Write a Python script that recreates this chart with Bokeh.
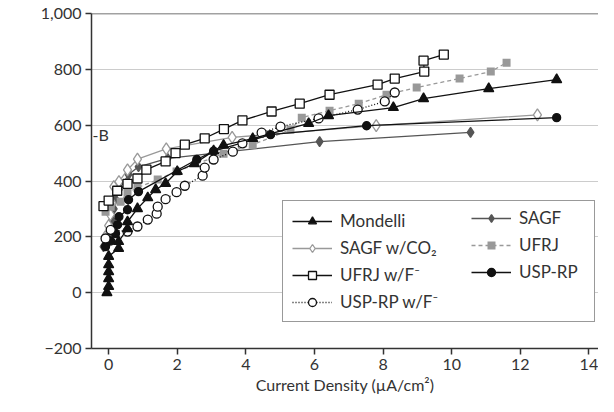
import math
from bokeh.plotting import figure
from bokeh.models import (Span, Label, Legend, LegendItem, FixedTicker, Range1d)
from bokeh.embed import file_html
from bokeh.resources import INLINE

FONT = "Lato"

# ---------------- data ----------------
mondelli_x = [-0.05, 0, 0, 0, 0, 0, 0.29, 0.29, 0.55, 0.55, 0.84, 1.14, 1.37, 1.66, 2.0, 2.5, 3.06, 3.35, 4.2, 5.83, 6.41, 8.3, 9.18, 11.08, 13.06]
mondelli_y = [0, 22, 50, 75, 100, 130, 158, 183, 229, 254, 301, 340, 369, 391, 434, 462, 508, 528, 552, 606, 634, 663, 695, 731, 763]

sagf_co2_x = [-0.1, 0.0, 0.05, 0.1, 0.15, 0.3, 0.55, 0.84, 1.68, 3.6, 7.8, 12.5]
sagf_co2_y = [200, 240, 280, 320, 380, 398, 440, 478, 515, 556, 598, 637]

ufrj_f_x = [-0.15, 0.0, 0.25, 0.55, 0.84, 1.1, 1.66, 1.95, 2.22, 2.8, 3.36, 3.9, 4.75, 5.57, 6.44, 7.84, 8.34, 9.2, 9.18, 9.77]
ufrj_f_y = [310, 330, 365, 390, 409, 441, 470, 500, 530, 553, 586, 617, 649, 677, 709, 745, 767, 792, 831, 853]

usprp_f_x = [-0.09, 0.06, 0.55, 0.84, 1.14, 1.4, 1.43, 1.66, 1.98, 2.22, 2.74, 2.8, 3.06, 3.62, 3.9, 4.46, 5.01, 6.12, 7.26, 8.05, 8.34]
usprp_f_y = [194, 225, 219, 237, 262, 283, 308, 335, 360, 383, 419, 448, 477, 505, 535, 573, 595, 624, 656, 685, 717]

sagf_x = [-0.15, 0.0, 0.1, 0.15, 0.2, 0.3, 0.58, 0.87, 1.72, 6.15, 10.55]
sagf_y = [165, 200, 260, 300, 335, 369, 423, 451, 481, 541, 574]

ufrj_x = [-0.09, 0.06, 0.35, 0.55, 0.84, 1.43, 1.98, 3.35, 4.2, 5.3, 5.63, 6.44, 7.29, 8.1, 8.98, 10.23, 11.14, 11.6]
ufrj_y = [290, 308, 326, 358, 376, 405, 434, 498, 530, 584, 627, 652, 677, 709, 735, 767, 792, 824]

usprp_x = [-0.09, 0.06, 0.2, 0.26, 0.3, 0.55, 0.58, 0.87, 2.57, 3.06, 4.72, 7.52, 13.06]
usprp_y = [165, 185, 212, 243, 272, 297, 333, 362, 477, 507, 566, 598, 627]

y_ticks = [-200, 0, 200, 400, 600, 800, 1000]
y_tick_labels = ["\u2212200", "0", "200", "400", "600", "800", "1,000"]
x_ticks = [0, 2, 4, 6, 8, 10, 12, 14]

# ---------------- figure ----------------
p = figure(width=598, height=396, output_backend="svg", toolbar_location=None,
           x_range=Range1d(-0.5, 14.28), y_range=Range1d(-200, 1000),
           min_border_left=91, min_border_right=0, min_border_top=13, min_border_bottom=48)
p.outline_line_color = None
p.background_fill_color = "white"

p.xgrid.grid_line_color = None
p.ygrid.grid_line_color = "#cccccc"
p.ygrid.grid_line_width = 1.2
p.ygrid.ticker = FixedTicker(ticks=[0, 200, 400, 600, 800])

for ax in (p.xaxis[0], p.yaxis[0]):
    ax.axis_line_color = "#333333"
    ax.axis_line_width = 1.5
    ax.major_tick_line_color = "#333333"
    ax.major_tick_line_width = 1.5
    ax.major_tick_in = 0
    ax.major_tick_out = 6
    ax.minor_tick_line_color = None
    ax.major_label_text_font = FONT
    ax.major_label_text_font_size = "16px"
    ax.major_label_text_color = "#333333"

p.yaxis.ticker = FixedTicker(ticks=y_ticks)
p.yaxis.major_label_overrides = {t: l for t, l in zip(y_ticks, y_tick_labels)}
p.yaxis.major_label_standoff = 4
p.xaxis.ticker = FixedTicker(ticks=x_ticks)
p.xaxis.major_label_standoff = 4

p.xaxis.axis_label = "Current Density (\u00b5A/cm\u00b2)"
p.xaxis.axis_label_text_font = FONT
p.xaxis.axis_label_text_font_size = "16px"
p.xaxis.axis_label_text_font_style = "normal"
p.xaxis.axis_label_text_color = "#333333"
p.xaxis.axis_label_standoff = 2

# top frame line
p.add_layout(Span(location=1000, dimension="width", line_color="#444444", line_width=1.5))

# ---------------- series ----------------
items = {}

def series(xs, ys, label, line_color, line_dash, marker, size, fill, mline, lw=1.3):
    r1 = p.line(xs, ys, line_color=line_color, line_width=lw, line_dash=line_dash)
    r2 = p.scatter(xs, ys, marker=marker, size=size, fill_color=fill,
                   line_color=mline, line_width=1.3)
    items[label] = LegendItem(label=label, renderers=[r1, r2])

series(sagf_x, sagf_y, "SAGF", "#555555", "solid", "diamond", 10, "#555555", "#555555")
series(sagf_co2_x, sagf_co2_y, "SAGF w/CO\u2082", "#999999", "solid", "diamond", 12, "white", "#999999")
series(ufrj_x, ufrj_y, "UFRJ", "#999999", "4 3", "square", 8, "#999999", None)
series(usprp_x, usprp_y, "USP-RP", "#111111", "solid", "circle", 8, "#111111", "#111111")
series(usprp_f_x, usprp_f_y, "USP-RP w/F\u207b", "#111111", "1 2", "circle", 9, "white", "#111111")
series(mondelli_x, mondelli_y, "Mondelli", "#111111", "solid", "triangle", 10, "#111111", "#111111")
series(ufrj_f_x, ufrj_f_y, "UFRJ w/F\u207b", "#111111", "solid", "square", 9, "white", "#111111")

col1 = ["Mondelli", "SAGF w/CO\u2082", "UFRJ w/F\u207b", "USP-RP w/F\u207b"]
col2 = ["SAGF", "UFRJ", "USP-RP"]

common = dict(label_text_font=FONT, label_text_font_size="17px", label_text_color="#333333",
              glyph_width=40, glyph_height=20, label_height=20,
              spacing=6, padding=9, margin=0, label_standoff=8)

legend1 = Legend(items=[items[n] for n in col1], location=(191, 26),
                 border_line_color="#333333", border_line_width=1.3,
                 background_fill_alpha=1.0, label_width=245, **common)
legend2 = Legend(items=[items[n] for n in col2], location=(380, 66),
                 border_line_color=None, background_fill_alpha=0.0, **common)
p.add_layout(legend1, "center")
p.add_layout(legend2, "center")

# "B" marker label
p.add_layout(Label(x=-0.47, y=566, text="-B", text_font=FONT, text_font_size="16px",
                   text_color="#333333", text_baseline="middle"))

# y axis label with subscript
p.add_layout(Label(x=-66, y=352 - 237, x_units="screen", y_units="screen",
                   text="Potential (mV)", angle=math.pi / 2, text_font=FONT,
                   text_font_size="16px", text_color="#333333",
                   text_baseline="alphabetic", text_align="left"))
p.add_layout(Label(x=-62, y=352 - 141, x_units="screen", y_units="screen",
                   text="SCE", angle=math.pi / 2, text_font=FONT,
                   text_font_size="10px", text_color="#333333",
                   text_baseline="alphabetic", text_align="left"))

open("out.html", "w").write(file_html(p, INLINE))
